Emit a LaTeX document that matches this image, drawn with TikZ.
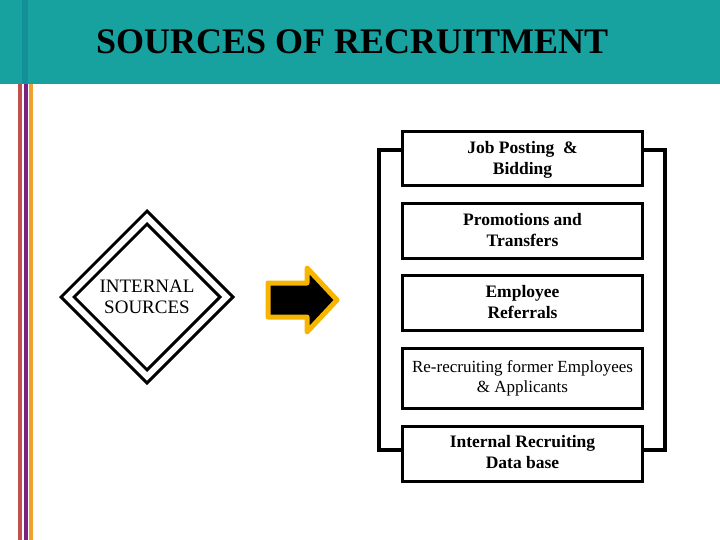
\documentclass[tikz,border=0pt]{standalone}
\usepackage{fontspec}
\setmainfont{Liberation Serif}
\usetikzlibrary{shapes.geometric,calc}
\definecolor{headteal}{HTML}{17A29F}
\definecolor{headdark}{HTML}{148F9A}
\definecolor{stripered}{HTML}{C0504D}
\definecolor{stripepurple}{HTML}{7F1F7F}
\definecolor{stripeorange}{HTML}{F0A030}
\definecolor{arrowgold}{HTML}{F7B500}
\tikzset{
  srcbox/.style={draw=black, line width=3pt, fill=white, minimum width=240pt,
    align=center, inner sep=0pt, outer sep=0pt, text depth=3pt, font=\fontsize{17.5}{21}\selectfont\bfseries},
  bracketline/.style={draw=black, line width=4.5pt, line join=miter},
  diamondline/.style={draw=black, line width=3pt, diamond, aspect=1, inner sep=0pt}
}
\begin{document}
\begin{tikzpicture}[x=1pt,y=-1pt]
\useasboundingbox (0,0) rectangle (720,540);
\fill[white] (0,0) rectangle (720,540);
% header band
\fill[headteal] (0,0) rectangle (720,84);
\fill[headdark] (22,0) rectangle (28,84);
% vertical stripes
\fill[stripered] (18,84) rectangle (22,540);
\fill[stripepurple] (24,84) rectangle (28,540);
\fill[stripeorange] (29,84) rectangle (33,540);
% title
\node[anchor=base west, inner sep=0pt, font=\fontsize{36}{40}\selectfont\bfseries] (title) at (96,54) {SOURCES OF RECRUITMENT};
% diamond
\node[diamondline, minimum width=173pt, minimum height=173pt] (outer) at (147,297) {};
\node[diamondline, minimum width=147pt, minimum height=147pt] (inner) at (147,297) {};
\node[align=center, font=\fontsize{19}{21}\selectfont] (int) at (147,297) {INTERNAL\\SOURCES};
% block arrow
\draw[draw=arrowgold, fill=black, line width=5pt, line join=round]
  (268,283) -- (307,283) -- (307,268) -- (337,300) -- (307,332) -- (307,317) -- (268,317) -- cycle;
% boxes
\node[srcbox, minimum height=54pt] (b1) at (522.5,159) {Job Posting \ \&\\Bidding};
\node[srcbox, minimum height=54pt] (b2) at (522.5,231) {Promotions and\\Transfers};
\node[srcbox, minimum height=55pt] (b3) at (522.5,303) {Employee\\Referrals};
\node[srcbox, minimum height=60pt, font=\fontsize{17}{20}\selectfont] (b4) at (522.5,378) {Re-recruiting former Employees\\\& Applicants};
\node[srcbox, minimum height=55pt] (b5) at (522.5,453.5) {Internal Recruiting\\Data base};
% bracket
\coordinate (lx) at (379,0);
\coordinate (rx) at (665,0);
\coordinate (lt) at ($(b1.north west)+(0,18)$);
\coordinate (lb) at ($(b5.north west)+(0,24)$);
\coordinate (rt) at ($(b1.north east)+(0,18)$);
\coordinate (rb) at ($(b5.north east)+(0,24)$);
\draw[bracketline] (lt) -- (lt -| lx) -- (lb -| lx) -- (lb);
\draw[bracketline] (rt) -- (rt -| rx) -- (rb -| rx) -- (rb);
\end{tikzpicture}
\end{document}
